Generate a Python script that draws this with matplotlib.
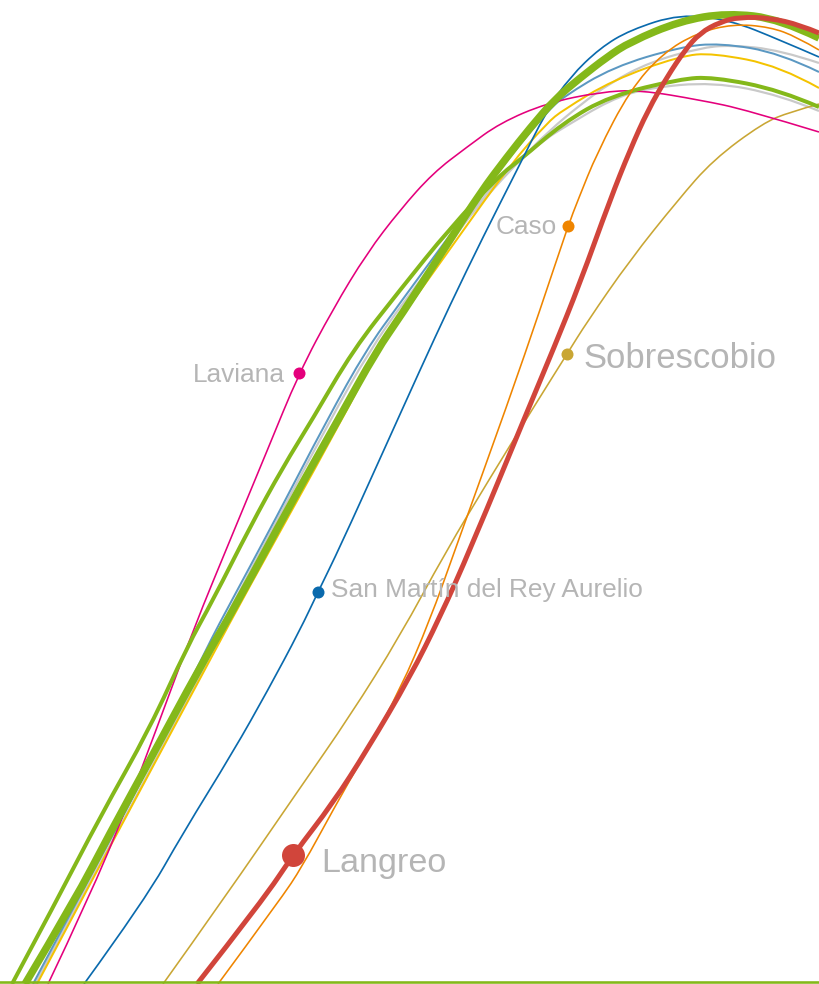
import matplotlib
matplotlib.use("Agg")
import matplotlib.pyplot as plt
from matplotlib.path import Path
from matplotlib.patches import PathPatch

plt.rcParams['font.family'] = ['Liberation Sans', 'DejaVu Sans']

# ---- data: curves (x, y in chart units; y grows downward) ----
laviana_x = [48, 88, 127, 155, 193, 233, 267, 299, 333, 367, 400, 433, 467, 500, 547, 600, 640, 700, 747, 819]
laviana_y = [984, 900, 807, 733, 630, 533, 451, 373, 309, 253, 210, 173, 147, 123, 103, 92, 90, 100, 110, 132]

sanmartin_x = [84, 145, 183, 233, 268, 300, 318, 340, 383, 420, 450, 483, 517, 547, 570, 600, 630, 680, 730, 780, 819]
sanmartin_y = [984, 900, 833, 752, 690, 630, 592, 547, 452, 370, 305, 237, 170, 110, 77, 48, 30, 14, 20, 40, 57]

sobrescobio_x = [163, 223, 300, 350, 400, 445, 490, 535, 567, 587, 630, 678, 713, 763, 790, 819]
sobrescobio_y = [984, 900, 788, 716, 636, 553, 478, 405, 354, 322, 260, 200, 160, 123, 112, 104]

langreo_x = [197, 263, 293, 333, 367, 410, 440, 470, 532, 553, 580, 610, 630, 648, 667, 685, 700, 720, 740, 770, 800, 819]
langreo_y = [984, 900, 855, 803, 750, 677, 617, 550, 400, 350, 283, 200, 150, 110, 77, 50, 33, 22, 17, 18, 25, 33]

caso_x = [218, 280, 302, 333, 367, 400, 430, 455, 509, 540, 568, 578, 597, 630, 663, 697, 733, 770, 797, 819]
caso_y = [984, 900, 867, 810, 750, 690, 620, 550, 400, 310, 226, 200, 153, 90, 53, 33, 24, 27, 37, 50]

verde_grueso_x = [25, 75, 110, 150, 200, 240, 290, 338, 377, 400, 450, 480, 507, 530, 555, 580, 607, 630, 680, 727, 780, 819]
verde_grueso_y = [984, 900, 833, 760, 667, 598, 505, 420, 350, 317, 240, 193, 157, 128, 99, 78, 57, 42, 21, 13, 19, 38]

verde_medio_x = [12, 57, 100, 150, 187, 213, 250, 283, 312, 353, 400, 450, 500, 520, 563, 610, 680, 713, 780, 819]
verde_medio_y = [984, 900, 817, 728, 647, 600, 527, 467, 420, 350, 290, 228, 175, 160, 123, 96, 79, 77, 90, 107]

azul_claro_x = [33, 88, 140, 207, 232, 275, 327, 366, 400, 450, 480, 513, 547, 563, 613, 680, 720, 780, 819]
azul_claro_y = [984, 880, 785, 647, 600, 520, 420, 350, 303, 235, 195, 153, 112, 97, 67, 47, 43, 53, 72]

gris_1_x = [35, 90, 210, 235, 330, 370, 405, 455, 485, 520, 550, 580, 610, 650, 700, 730, 780, 819]
gris_1_y = [984, 880, 647, 600, 420, 350, 300, 235, 198, 160, 130, 105, 83, 62, 48, 45, 50, 63]

amarillo_x = [37, 92, 217, 242, 342, 378, 410, 460, 510, 547, 563, 613, 680, 713, 780, 819]
amarillo_y = [984, 880, 647, 600, 420, 350, 305, 235, 165, 123, 110, 80, 56, 53, 66, 88]

gris_2_x = [35, 92, 215, 240, 340, 378, 410, 440, 473, 500, 520, 547, 563, 610, 647, 713, 780, 819]
gris_2_y = [984, 880, 647, 600, 420, 350, 305, 260, 210, 178, 160, 138, 128, 100, 88, 82, 95, 111]

# labels and which point of each series carries the dot
label_names = ["Laviana", "San Martín del Rey Aurelio", "Caso", "Sobrescobio", "Langreo"]
label_index = [7, 6, 10, 8, 2]

baseline_value = 982

# ---- figure ----
fig = plt.figure(figsize=(8.2, 9.84), dpi=100)
ax = fig.add_axes([0, 0, 1, 1])
ax.set_xlim(0, 820)
ax.set_ylim(984, 0)
ax.axis('off')

GREEN = '#84b81a'
GREY = '#c9c9c9'
series = [
    # (x, y, colour, width px, label?)
    (gris_2_x, gris_2_y, GREY, 2.2, None),
    (gris_1_x, gris_1_y, GREY, 2.2, None),
    (azul_claro_x, azul_claro_y, '#5b98c2', 2.0, None),
    (amarillo_x, amarillo_y, '#f4c300', 2.0, None),
    (sobrescobio_x, sobrescobio_y, '#c9a634', 1.6, 3),
    (laviana_x, laviana_y, '#e4007c', 1.6, 0),
    (verde_medio_x, verde_medio_y, GREEN, 4.0, None),
    (sanmartin_x, sanmartin_y, '#0a6aad', 1.7, 1),
    (caso_x, caso_y, '#ef8500', 1.6, 2),
    (verde_grueso_x, verde_grueso_y, GREEN, 7.5, None),
    (langreo_x, langreo_y, '#d1453b', 5.0, 4),
]

px = 0.72  # points per pixel at 100 dpi


def smooth_path(xs, ys):
    """Quadratic B-spline style path through the read points (drawn by matplotlib's Bezier renderer)."""
    pts = list(zip(xs, ys))
    verts = [pts[0]]
    codes = [Path.MOVETO]
    for i in range(1, len(pts) - 1):
        mid = ((pts[i][0] + pts[i + 1][0]) / 2, (pts[i][1] + pts[i + 1][1]) / 2)
        if i == len(pts) - 2:
            mid = pts[-1]
        verts += [pts[i], mid]
        codes += [Path.CURVE3, Path.CURVE3]
    return Path(verts, codes)


for xs, ys, col, w, lab in series:
    ax.add_patch(PathPatch(smooth_path(xs, ys), fill=False, edgecolor=col,
                           lw=w * px, joinstyle='round', capstyle='butt', zorder=2))

ax.axhline(baseline_value, color=GREEN, lw=2.6 * px, zorder=3)

TXT = '#b5b5b5'
label_style = {
    0: dict(dx=-14, dy=9, ha='right', size=26.3, ms=12),
    1: dict(dx=13, dy=5, ha='left', size=26.3, ms=12),
    2: dict(dx=-11, dy=8, ha='right', size=26.3, ms=12),
    3: dict(dx=16, dy=14, ha='left', size=34.6, ms=12),
    4: dict(dx=28, dy=17, ha='left', size=34.2, ms=23),
}
for xs, ys, col, w, lab in series:
    if lab is None:
        continue
    i = label_index[lab]
    st = label_style[lab]
    ax.plot([xs[i]], [ys[i]], 'o', color=col, ms=st['ms'] * px, mew=0, zorder=5)
    ax.text(xs[i] + st['dx'], ys[i] + st['dy'], label_names[lab], ha=st['ha'],
            va='baseline', color=TXT, fontsize=st['size'] * px, zorder=6)

fig.savefig('out.png', dpi=100)
